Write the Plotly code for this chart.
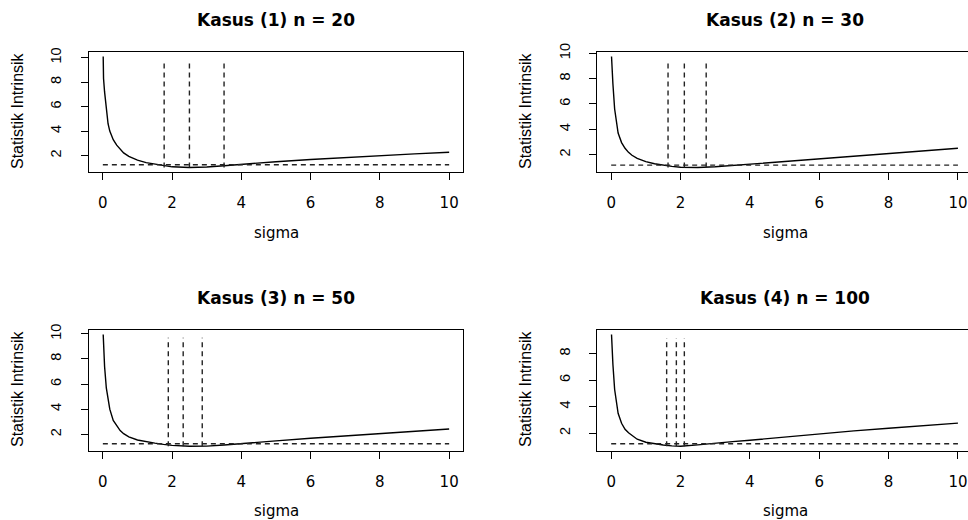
import plotly.graph_objects as go

# ---------------- data ----------------
sigma = [0.01, 0.02, 0.05, 0.1, 0.15, 0.2, 0.3, 0.4, 0.5, 0.6, 0.75, 1.0, 1.25,
         1.5, 1.75, 2.0, 2.5, 3.0, 3.5, 4, 5, 6, 7, 8, 9, 10]

stat_1 = [10.1, 8.3, 7.2, 5.7, 4.6, 4.0, 3.3, 2.85, 2.5, 2.22, 1.93, 1.62, 1.42,
          1.3, 1.2, 1.08, 1.02, 1.06, 1.17, 1.3, 1.5, 1.68, 1.85, 2.0, 2.14, 2.27]
stat_2 = [9.75, 9.0, 7.6, 5.6, 4.45, 3.7, 2.95, 2.5, 2.18, 1.95, 1.7, 1.45, 1.28,
          1.16, 1.07, 1.0, 0.98, 1.04, 1.14, 1.25, 1.47, 1.69, 1.9, 2.1, 2.3, 2.5]
stat_3 = [9.95, 8.8, 7.4, 5.7, 4.7, 4.0, 3.1, 2.65, 2.3, 2.05, 1.8, 1.55, 1.4,
          1.3, 1.2, 1.12, 1.05, 1.06, 1.15, 1.27, 1.48, 1.68, 1.87, 2.05, 2.24, 2.42]
stat_4 = [9.45, 8.7, 7.2, 5.3, 4.2, 3.5, 2.75, 2.3, 2.03, 1.82, 1.55, 1.32, 1.2,
          1.11, 1.05, 1.02, 1.12, 1.26, 1.37, 1.47, 1.72, 1.97, 2.18, 2.38, 2.57, 2.76]

titles = ["Kasus (1) n = 20", "Kasus (2) n = 30", "Kasus (3) n = 50", "Kasus (4) n = 100"]
hline_level = [1.25, 1.17, 1.25, 1.21]
vlines = [[1.77, 2.5, 3.5], [1.64, 2.11, 2.74], [1.89, 2.32, 2.87], [1.60, 1.88, 2.11]]
vline_top = [9.8, 9.43, 9.68, 9.18]
vline_bottom = [1.02, 0.98, 1.05, 1.02]
x_ticks = [0, 2, 4, 6, 8, 10]
x_label = "sigma"
y_label = "Statistik Intrinsik"

series = [stat_1, stat_2, stat_3, stat_4]

# ---------------- layout geometry ----------------
W, H = 968, 520
boxes = [  # left, right, top, bottom in pixels
    (89, 463, 52, 172),
    (597.3, 968, 52, 172),
    (89, 463, 330, 450.7),
    (597.3, 968, 330, 450.7),
]
xranges = [[-0.4, 10.4], [-0.4, 10.29], [-0.4, 10.4], [-0.4, 10.29]]
title_pos = [(276, 20), (785, 20), (276, 298), (785, 298)]
xlab_pos = [(276, 233), (785, 233), (276, 511), (785, 511)]
ylab_pos = [(17, 111), (525, 111), (17, 389), (525, 389)]

fig = go.Figure()
DASH = "5px,4px"
DASH_STYLE = dict(color="#222", width=1.4, dash=DASH)

for i in range(4):
    xa = "x" if i == 0 else f"x{i+1}"
    ya = "y" if i == 0 else f"y{i+1}"
    vals = series[i]
    fig.add_trace(go.Scatter(x=sigma, y=vals, mode="lines", xaxis=xa, yaxis=ya,
                             line=dict(color="black", width=1.4), showlegend=False,
                             hoverinfo="skip"))
    fig.add_trace(go.Scatter(x=[x_ticks[0], x_ticks[-1]], y=[hline_level[i]] * 2,
                             mode="lines", xaxis=xa, yaxis=ya, line=DASH_STYLE,
                             showlegend=False, hoverinfo="skip"))
    vx, vy = [], []
    for v in vlines[i]:
        vx += [v, v, None]
        vy += [vline_bottom[i], vline_top[i], None]
    fig.add_trace(go.Scatter(x=vx, y=vy, mode="lines", xaxis=xa, yaxis=ya,
                             line=DASH_STYLE, showlegend=False, hoverinfo="skip"))

    lo, hi = min(vals), max(vals)
    pad = 0.04 * (hi - lo)
    l, r, t, b = boxes[i]
    right_panel = i in (1, 3)
    xkey = "xaxis" if i == 0 else f"xaxis{i+1}"
    ykey = "yaxis" if i == 0 else f"yaxis{i+1}"
    fig.layout[xkey] = dict(
        domain=[l / W, r / W], range=xranges[i], anchor=ya, automargin=False,
        tickmode="array", tickvals=x_ticks,
        showline=True, linecolor="black", linewidth=1, mirror=True,
        ticks="outside", ticklen=7, tickcolor="black", tickwidth=1,
        showgrid=False, zeroline=False, ticklabelstandoff=10,
        tickfont=dict(family="DejaVu Sans", size=15, color="black"),
    )
    fig.layout[ykey] = dict(
        domain=[1 - b / H, 1 - t / H], range=[lo - pad, hi + pad], anchor=xa,
        automargin=False, tick0=0, dtick=2,
        showline=True, linecolor="black", linewidth=1, mirror=not right_panel,
        ticks="outside", ticklen=7, tickcolor="black", tickwidth=1,
        showgrid=False, zeroline=False, tickangle=-90, ticklabelstandoff=14,
        tickfont=dict(family="Liberation Sans, Arial", size=14.5, color="black"),
    )

ann = []
for i in range(4):
    tx, ty = title_pos[i]
    ann.append(dict(text=f"<b>{titles[i]}</b>", x=tx / W, y=1 - ty / H, xref="paper", yref="paper",
                    xanchor="center", yanchor="middle", showarrow=False,
                    font=dict(family="DejaVu Sans", size=17, color="black")))
    sx, sy = xlab_pos[i]
    ann.append(dict(text=x_label, x=sx / W, y=1 - sy / H, xref="paper", yref="paper",
                    xanchor="center", yanchor="middle", showarrow=False,
                    font=dict(family="DejaVu Sans", size=15, color="black")))
    lx, ly = ylab_pos[i]
    ann.append(dict(text=y_label, x=lx / W, y=1 - ly / H, xref="paper", yref="paper",
                    xanchor="center", yanchor="middle", showarrow=False, textangle=-90,
                    font=dict(family="Liberation Sans, Arial", size=16, color="black")))

fig.update_layout(
    width=W, height=H, margin=dict(l=0, r=0, t=0, b=0, autoexpand=False),
    paper_bgcolor="white", plot_bgcolor="white",
    annotations=ann, showlegend=False,
)

fig.write_html("out.html", config={"displayModeBar": False},
               post_script="document.body.style.margin='0';document.body.style.overflow='hidden';")
